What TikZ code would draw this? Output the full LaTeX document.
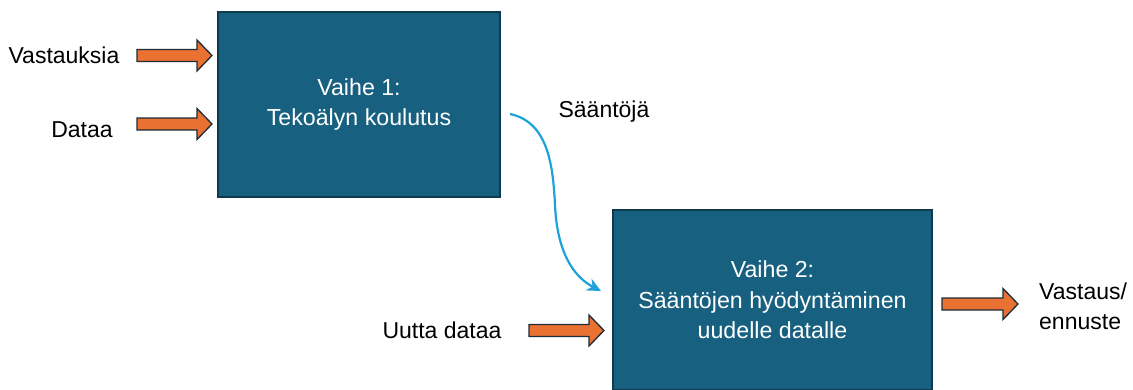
\documentclass[tikz,border=0pt]{standalone}
\usepackage{fontspec}
\setmainfont{Liberation Sans}
\usetikzlibrary{arrows.meta}
\definecolor{boxfill}{HTML}{17607F}
\definecolor{boxline}{HTML}{0F3A4E}
\definecolor{arrfill}{HTML}{E97132}
\definecolor{arrline}{HTML}{1E2B38}
\definecolor{flow}{HTML}{1EA2DA}
\tikzset{
  phase/.style={draw=boxline, line width=1.3pt, fill=boxfill, text=white,
    align=center, inner sep=0pt, font=\fontsize{23.2}{30.5}\selectfont},
  label/.style={inner sep=0pt, font=\fontsize{23}{29.5}\selectfont, text=black},
  blockarr/.style={draw=arrline, line width=1.3pt, fill=arrfill, line join=miter},
  flowarrow/.style={draw=flow, line width=2.2pt, -{Stealth[length=14pt,width=13pt]}}
}
% orange block arrow: #1 = tail centre, #2 = total length
\newcommand{\blockarrow}[2]{%
  \draw[blockarr] (#1) ++(0,-6) -- ++({#2-15},0) -- ++(0,-9.5) -- ++(15,15.5)
    -- ++(-15,15.5) -- ++(0,-9.5) -- ++({15-#2},0) -- cycle;}
\begin{document}
\begin{tikzpicture}[x=1pt,y=-1pt]
  \useasboundingbox (0,0) rectangle (1133,389);
  \clip (0,0) rectangle (1133,389);

  % phase boxes
  \node[phase, minimum width=282pt, minimum height=185pt] (p1) at (359,104.5)
    {Vaihe 1:\\Tekoälyn koulutus};
  \node[phase, minimum width=319pt, minimum height=180pt] (p2) at (772.5,300)
    {Vaihe 2:\\Sääntöjen hyödyntäminen\\uudelle datalle};

  % input / output labels
  \node[label] (vast) at (64,55) {Vastauksia};
  \node[label] (data) at (82,129.5) {Dataa};
  \node[label] (uusi) at (442,330.5) {Uutta dataa};
  \node[label, anchor=north west, align=left] (out) at (1039,283) {Vastaus/\\ennuste};
  \node[label] (rules) at (604,111.5) {Sääntöjä};

  % tails of the block arrows
  \coordinate (a1) at (137,55.5);
  \coordinate (a2) at (137,124);
  \coordinate (a3) at (529,330.5);
  \coordinate (a4) at (942,304);
  \blockarrow{a1}{75}
  \blockarrow{a2}{75}
  \blockarrow{a3}{75}
  \blockarrow{a4}{76}

  % curved flow from phase 1 to phase 2
  \coordinate (c1) at (510,114);
  \coordinate (c2) at (601,291);
  \draw[flowarrow] (c1) .. controls (548,122) and (553,165) .. (555,205)
    .. controls (557,250) and (572,276) .. (c2);
\end{tikzpicture}
\end{document}
